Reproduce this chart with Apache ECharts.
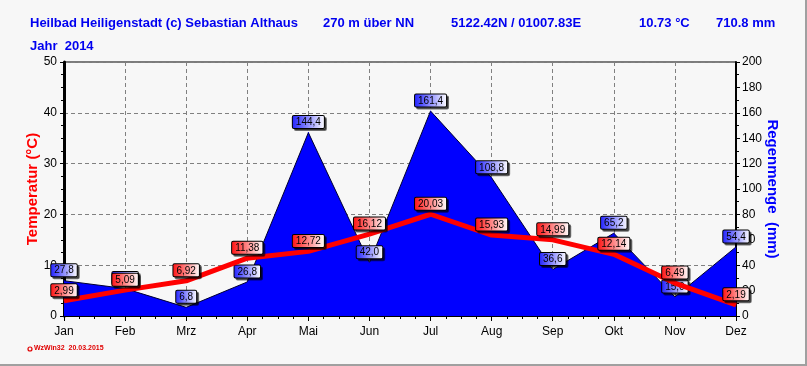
<!DOCTYPE html>
<html><head><meta charset="utf-8">
<script src="https://cdn.jsdelivr.net/npm/echarts@6/dist/echarts.min.js"></script>
<style>html,body{margin:0;padding:0;background:#f7f7f7}#c{width:807px;height:366px}</style>
</head><body><div id="c"></div>
<script>
const months = ['Jan','Feb','Mrz','Apr','Mai','Jun','Jul','Aug','Sep','Okt','Nov','Dez'];
const temperature = [2.99, 5.09, 6.92, 11.38, 12.72, 16.12, 20.03, 15.93, 14.99, 12.14, 6.49, 2.19];
const rain = [27.8, 21.6, 6.8, 26.8, 144.4, 42.0, 161.4, 108.8, 36.6, 65.2, 15.0, 54.4];
const tempTicks = [0, 10, 20, 30, 40, 50];
const rainTicks = [0, 20, 40, 60, 80, 100, 120, 140, 160, 180, 200];

const chart = echarts.init(document.getElementById('c'), null, {renderer: 'canvas'});
const sans = "'Liberation Sans', Arial, sans-serif";
const blueT = '#0000f0';
function grad(c) {
  return new echarts.graphic.LinearGradient(0, 0, 1, 0, [{offset: 0, color: c}, {offset: 1, color: '#ffffff'}]);
}
function lbl(c, digits) {
  return {
    show: true, position: 'top', distance: 4,
    formatter: p => Number(p.value).toFixed(digits).replace('.', ','),
    color: '#000', fontSize: 10, fontFamily: sans,
    backgroundColor: grad(c), borderColor: '#000', borderWidth: 1, borderRadius: 1,
    padding: [1, 3, 0, 3], lineHeight: 11,
    shadowColor: 'rgba(0,0,0,0.55)', shadowOffsetX: 2, shadowOffsetY: 2, shadowBlur: 0
  };
}
const tFont = 'bold 13px ' + sans;
const option = {
  backgroundColor: '#f7f7f7',
  animation: false,
  grid: {left: 64, right: 71, top: 62, bottom: 50, show: true, borderColor: '#000', borderWidth: 1, backgroundColor: 'transparent'},
  graphic: [
    {type: 'text', left: 30, top: 17, style: {text: 'Heilbad Heiligenstadt (c) Sebastian Althaus', fill: blueT, font: tFont}},
    {type: 'text', left: 323, top: 17, style: {text: '270 m über NN', fill: blueT, font: tFont}},
    {type: 'text', left: 451, top: 17, style: {text: '5122.42N / 01007.83E', fill: blueT, font: tFont}},
    {type: 'text', left: 639, top: 17, style: {text: '10.73 °C', fill: blueT, font: tFont}},
    {type: 'text', left: 716, top: 17, style: {text: '710.8 mm', fill: blueT, font: tFont}},
    {type: 'text', left: 30, top: 40, style: {text: 'Jahr  2014', fill: blueT, font: tFont}},
    {type: 'circle', shape: {cx: 30, cy: 349, r: 2}, style: {fill: 'none', stroke: '#e00000', lineWidth: 1.2}},
    {type: 'text', left: 34, top: 345, style: {text: 'WzWin32  20.03.2015', fill: '#e00000', font: 'bold 7px ' + sans}},
    {type: 'rect', shape: {x: 0, y: 364, width: 807, height: 2}, style: {fill: '#a0a0a0'}},
    {type: 'rect', shape: {x: 805, y: 0, width: 2, height: 366}, style: {fill: '#a0a0a0'}}
  ],
  xAxis: [
    {type: 'category', data: months, boundaryGap: false,
     axisLine: {lineStyle: {color: '#000', width: 2}},
     axisTick: {show: true, length: 5, lineStyle: {color: '#000'}},
     axisLabel: {color: '#000', fontSize: 12, margin: 10, fontFamily: sans},
     splitLine: {show: true, lineStyle: {color: '#808080', type: [4, 3], width: 1}}},
    {type: 'value', min: 0, max: 11, interval: 1, position: 'bottom', show: true,
     axisLine: {show: false}, axisLabel: {show: false}, axisTick: {show: false}, splitLine: {show: false},
     minorTick: {show: true, splitNumber: 4, length: 3, lineStyle: {color: '#000'}}}
  ],
  yAxis: [
    {type: 'value', min: 0, max: 50, interval: 10, position: 'left',
     name: 'Temperatur (°C)', nameLocation: 'middle', nameGap: 24, nameRotate: 90, nameMoveOverlap: false,
     nameTextStyle: {color: '#ff0000', fontWeight: 'bold', fontSize: 15, fontFamily: sans},
     axisLine: {show: true, lineStyle: {color: '#000', width: 3}},
     axisTick: {show: true, length: 4, lineStyle: {color: '#000'}},
     minorTick: {show: true, splitNumber: 4, length: 3, lineStyle: {color: '#000'}},
     axisLabel: {color: '#000', fontSize: 12, margin: 7, fontFamily: sans},
     splitLine: {show: true, lineStyle: {color: '#808080', type: [4, 3], width: 1}}},
    {type: 'value', min: 0, max: 200, interval: 20, position: 'right',
     name: 'Regenmenge  (mm)', nameLocation: 'middle', nameGap: 29, nameRotate: -90, nameMoveOverlap: false,
     nameTextStyle: {color: '#0000ff', fontWeight: 'bold', fontSize: 15, fontFamily: sans},
     axisLine: {show: true, lineStyle: {color: '#000', width: 2}},
     axisTick: {show: true, length: 4, lineStyle: {color: '#000'}},
     minorTick: {show: true, splitNumber: 2, length: 3, lineStyle: {color: '#000'}},
     axisLabel: {color: '#000', fontSize: 12, margin: 6, fontFamily: sans},
     splitLine: {show: false}}
  ],
  series: [
    {name: 'Regen', type: 'line', yAxisIndex: 1, xAxisIndex: 0, data: rain, z: 1,
     symbol: 'circle', symbolSize: 1, showSymbol: true,
     itemStyle: {color: '#0000ff'},
     lineStyle: {color: '#000030', width: 1},
     areaStyle: {color: '#0000ff', opacity: 1},
     label: lbl('#2020ff', 1)},
    {name: 'Temperatur', type: 'line', yAxisIndex: 0, xAxisIndex: 0, data: temperature, z: 3,
     symbol: 'circle', symbolSize: 1, showSymbol: true,
     itemStyle: {color: '#ff0000'},
     lineStyle: {color: '#ff0000', width: 5},
     label: lbl('#ff1010', 2)}
  ]
};
chart.setOption(option);
</script></body></html>
